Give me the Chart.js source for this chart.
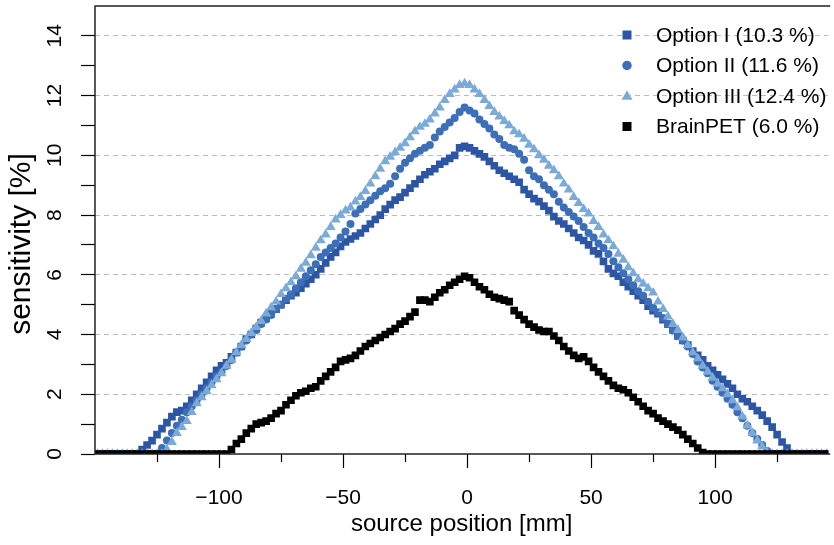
<!DOCTYPE html>
<html>
<head>
<meta charset="utf-8">
<title>Sensitivity profile</title>
<script src="https://cdn.jsdelivr.net/npm/chart.js@4.4.1/dist/chart.umd.min.js"></script>
<style>
  html, body { margin: 0; padding: 0; background: #fff; overflow: hidden; }
  #wrap { position: relative; width: 834px; height: 545px; }
</style>
</head>
<body>
<div id="wrap"><canvas id="sensChart"></canvas></div>
<script>
// source positions [mm]
const positions = [
  -149, -147, -145, -143, -141, -139, -137, -135, -133, -131,
  -129, -127, -125, -123, -121, -119, -117, -115, -113, -111,
  -109, -107, -105, -103, -101, -99, -97, -95, -93, -91,
  -89, -87, -85, -83, -81, -79, -77, -75, -73, -71,
  -69, -67, -65, -63, -61, -59, -57, -55, -53, -51,
  -49, -47, -45, -43, -41, -39, -37, -35, -33, -31,
  -29, -27, -25, -23, -21, -19, -17, -15, -13, -11,
  -9, -7, -5, -3, -1, 1, 3, 5, 7, 9,
  11, 13, 15, 17, 19, 21, 23, 25, 27, 29,
  31, 33, 35, 37, 39, 41, 43, 45, 47, 49,
  51, 53, 55, 57, 59, 61, 63, 65, 67, 69,
  71, 73, 75, 77, 79, 81, 83, 85, 87, 89,
  91, 93, 95, 97, 99, 101, 103, 105, 107, 109,
  111, 113, 115, 117, 119, 121, 123, 125, 127, 129,
  131, 133, 135, 137, 139, 141, 143, 145, 147, 149
];

// sensitivity [%]
const optionI = [
  0, 0, 0, 0, 0, 0, 0, 0, 0, 0.15,
  0.3, 0.45, 0.65, 0.85, 1.05, 1.25, 1.4, 1.45, 1.6, 1.8,
  2.0, 2.2, 2.4, 2.6, 2.8, 2.95, 3.05, 3.25, 3.4, 3.6,
  3.85, 4.0, 4.2, 4.4, 4.55, 4.7, 4.85, 5.0, 5.15, 5.3,
  5.4, 5.55, 5.7, 5.85, 6.0, 6.2, 6.4, 6.6, 6.75, 6.95,
  7.1, 7.2, 7.3, 7.4, 7.55, 7.7, 7.85, 8.0, 8.2, 8.35,
  8.5, 8.6, 8.75, 8.9, 9.05, 9.2, 9.35, 9.45, 9.55, 9.7,
  9.8, 9.9, 10.0, 10.25, 10.3, 10.25, 10.15, 10.05, 9.95, 9.8,
  9.65, 9.5, 9.4, 9.3, 9.2, 9.1, 8.85, 8.7, 8.55, 8.45,
  8.3, 8.15, 7.95, 7.8, 7.7, 7.55, 7.4, 7.25, 7.15, 7.0,
  6.8, 6.7, 6.45, 6.2, 6.05, 5.95, 5.75, 5.6, 5.45, 5.3,
  5.15, 4.95, 4.8, 4.7, 4.5, 4.35, 4.15, 3.95, 3.8, 3.65,
  3.45, 3.3, 3.15, 2.95, 2.8, 2.65, 2.5, 2.35, 2.2, 2.0,
  1.85, 1.75, 1.6, 1.45, 1.3, 1.1, 0.9, 0.65, 0.4, 0.2,
  0, 0, 0, 0, 0, 0, 0, 0, 0, 0
];

const optionII = [
  0, 0, 0, 0, 0, 0, 0, 0, 0, 0,
  0, 0, 0, 0.2, 0.45, 0.7, 0.95, 1.15, 1.4, 1.6,
  1.8, 2.0, 2.2, 2.4, 2.6, 2.75, 2.95, 3.15, 3.4, 3.6,
  3.8, 4.0, 4.15, 4.35, 4.5, 4.65, 4.85, 5.0, 5.2, 5.35,
  5.55, 5.75, 5.95, 6.15, 6.35, 6.6, 6.75, 6.9, 7.05, 7.25,
  7.45, 7.7, 8.05, 8.2, 8.35, 8.5, 8.65, 8.8, 8.9, 9.05,
  9.3, 9.55, 9.75, 9.9, 10.05, 10.15, 10.25, 10.35, 10.6, 10.8,
  10.95, 11.1, 11.25, 11.45, 11.6, 11.5, 11.4, 11.2, 11.05, 10.9,
  10.7, 10.55, 10.35, 10.25, 10.2, 10.05, 9.85, 9.5, 9.3, 9.2,
  9.0, 8.85, 8.7, 8.45, 8.25, 8.1, 7.95, 7.8, 7.6, 7.4,
  7.25, 7.05, 6.9, 6.7, 6.45, 6.25, 6.05, 5.85, 5.65, 5.45,
  5.3, 5.1, 4.9, 4.75, 4.55, 4.35, 4.15, 3.95, 3.8, 3.6,
  3.35, 3.1, 2.9, 2.7, 2.45, 2.25, 2.05, 1.85, 1.65, 1.4,
  1.2, 0.95, 0.7, 0.5, 0.3, 0.1, 0, 0, 0, 0,
  0, 0, 0, 0, 0, 0, 0, 0, 0, 0
];

const optionIII = [
  0, 0, 0, 0, 0, 0, 0, 0, 0, 0,
  0, 0, 0, 0, 0.15, 0.4, 0.7, 0.9, 1.1, 1.4,
  1.7, 1.9, 2.1, 2.3, 2.5, 2.7, 2.95, 3.15, 3.4, 3.65,
  3.85, 4.05, 4.25, 4.45, 4.7, 4.9, 5.1, 5.35, 5.55, 5.75,
  5.95, 6.2, 6.4, 6.65, 6.9, 7.15, 7.35, 7.6, 7.85, 8.0,
  8.15, 8.25, 8.45, 8.6, 8.8, 9.05, 9.3, 9.55, 9.8, 9.95,
  10.1, 10.25, 10.4, 10.6, 10.8, 10.95, 11.05, 11.2, 11.4, 11.6,
  11.85, 12.05, 12.2, 12.35, 12.4, 12.35, 12.2, 12.05, 11.85, 11.65,
  11.45, 11.3, 11.15, 11.0, 10.8, 10.7, 10.55, 10.35, 10.2, 10.0,
  9.85, 9.65, 9.5, 9.3, 9.05, 8.85, 8.6, 8.4, 8.2, 8.05,
  7.8, 7.6, 7.35, 7.15, 6.95, 6.7, 6.5, 6.25, 6.05, 5.85,
  5.7, 5.55, 5.4, 5.1, 4.85, 4.6, 4.35, 4.15, 3.9, 3.65,
  3.4, 3.2, 2.95, 2.75, 2.55, 2.35, 2.2, 2.0, 1.8, 1.55,
  1.25, 0.95, 0.7, 0.45, 0.25, 0.05, 0, 0, 0, 0,
  0, 0, 0, 0, 0, 0, 0, 0, 0, 0
];

const brainPET = [
  0, 0, 0, 0, 0, 0, 0, 0, 0, 0,
  0, 0, 0, 0, 0, 0, 0, 0, 0, 0,
  0, 0, 0, 0, 0, 0, 0, 0.15, 0.35, 0.5,
  0.7, 0.85, 1.0, 1.05, 1.1, 1.2, 1.35, 1.45, 1.65, 1.8,
  1.95, 2.05, 2.1, 2.2, 2.25, 2.45, 2.6, 2.75, 2.9, 3.1,
  3.15, 3.2, 3.3, 3.45, 3.6, 3.7, 3.8, 3.9, 4.0, 4.1,
  4.2, 4.35, 4.45, 4.6, 4.75, 5.15, 5.15, 5.1, 5.25, 5.4,
  5.5, 5.65, 5.75, 5.85, 5.95, 5.9, 5.75, 5.6, 5.5, 5.35,
  5.25, 5.2, 5.15, 5.1, 4.8, 4.65, 4.5, 4.35, 4.25, 4.15,
  4.1, 4.1, 3.95, 3.8, 3.6, 3.45, 3.3, 3.2, 3.25, 3.1,
  2.9, 2.75, 2.6, 2.45, 2.3, 2.2, 2.15, 2.05, 1.9, 1.75,
  1.6, 1.45, 1.35, 1.2, 1.1, 1.0, 0.9, 0.8, 0.65, 0.5,
  0.35, 0.2, 0.05, 0, 0, 0, 0, 0, 0, 0,
  0, 0, 0, 0, 0, 0, 0, 0, 0, 0,
  0, 0, 0, 0, 0, 0, 0, 0, 0, 0
];

const seriesLabels = ['Option I (10.3 %)', 'Option II (11.6 %)', 'Option III (12.4 %)', 'BrainPET (6.0 %)'];
const seriesColors = ['#2c56a3', '#3d6eb8', '#7baad9', '#000000'];

const xMajorTicks = [-100, -50, 0, 50, 100];
const xMinorTicks = [-125, -75, -25, 25, 75, 125];
const yTicks = [0, 1, 2, 3, 4, 5, 6, 7, 8, 9, 10, 11, 12, 13, 14];
const yLabelTicks = [0, 2, 4, 6, 8, 10, 12, 14];

const FONT = '"Liberation Sans", Arial, Helvetica, sans-serif';
Chart.defaults.font.family = FONT;
Chart.defaults.color = '#000';

function toPoints(values) {
  return values.map((v, i) => ({ x: positions[i], y: v }));
}

function fmtTick(v) {
  return v < 0 ? '\u2212' + Math.abs(v) : String(v);
}

// markers used both in the plot and in the legend
const markers = [
  { style: 'rect', radius: 5.4 },
  { style: 'circle', radius: 4.0 },
  { style: 'triangle', radius: 5.8 },
  { style: 'rect', radius: 5.4 }
];

function drawMarker(ctx, style, x, y, size, color) {
  ctx.fillStyle = color;
  ctx.beginPath();
  if (style === 'rect') {
    ctx.rect(x - size / 2, y - size / 2, size, size);
  } else if (style === 'circle') {
    ctx.arc(x, y, size / 2, 0, Math.PI * 2);
  } else {
    const h = size * 0.87;
    ctx.moveTo(x, y - h * 0.6);
    ctx.lineTo(x + size / 2, y + h * 0.4);
    ctx.lineTo(x - size / 2, y + h * 0.4);
    ctx.closePath();
  }
  ctx.fill();
}

// R-like frame, minor ticks, rotated y labels, y title and the in-plot legend
const rStylePlugin = {
  id: 'rStyle',
  afterDraw(chart) {
    const { ctx, chartArea: a, scales } = chart;
    ctx.save();

    // plot frame (right side runs off the canvas)
    ctx.strokeStyle = '#222';
    ctx.lineWidth = 1.5;
    ctx.beginPath();
    ctx.moveTo(a.right + 2, a.top);
    ctx.lineTo(a.left, a.top);
    ctx.lineTo(a.left, a.bottom);
    ctx.lineTo(a.right + 2, a.bottom);
    ctx.stroke();

    // short minor ticks on x
    ctx.strokeStyle = '#000';
    ctx.lineWidth = 1.2;
    xMinorTicks.forEach(v => {
      const px = Math.round(scales.x.getPixelForValue(v)) + 0.5;
      ctx.beginPath();
      ctx.moveTo(px, a.bottom);
      ctx.lineTo(px, a.bottom + 8);
      ctx.stroke();
    });

    // y tick labels, rotated like R's default las = 0
    ctx.fillStyle = '#000';
    ctx.font = '21px ' + FONT;
    ctx.textAlign = 'center';
    ctx.textBaseline = 'middle';
    yLabelTicks.forEach(v => {
      const py = scales.y.getPixelForValue(v);
      ctx.save();
      ctx.translate(55, py);
      ctx.rotate(-Math.PI / 2);
      ctx.fillText(String(v), 0, 0);
      ctx.restore();
    });

    // y axis title
    ctx.save();
    ctx.font = '30px ' + FONT;
    ctx.translate(22, 244);
    ctx.rotate(-Math.PI / 2);
    ctx.fillText('sensitivity [%]', 0, 0);
    ctx.restore();

    // legend
    const legendX = 627, textX = 656;
    const rowY = [35, 65.5, 96, 126.5];
    const legendSize = [9, 9.5, 11, 9];
    ctx.font = '21px ' + FONT;
    ctx.textAlign = 'left';
    seriesLabels.forEach((label, i) => {
      drawMarker(ctx, markers[i].style, legendX, rowY[i], legendSize[i], seriesColors[i]);
      ctx.fillStyle = '#000';
      ctx.fillText(label, textX, rowY[i] + 1);
    });

    ctx.restore();
  }
};

const seriesData = [optionI, optionII, optionIII, brainPET];

new Chart(document.getElementById('sensChart'), {
  type: 'scatter',
  data: {
    datasets: seriesData.map((values, i) => ({
      label: seriesLabels[i],
      data: toPoints(values),
      showLine: false,
      pointStyle: markers[i].style,
      pointRadius: markers[i].radius,
      pointHoverRadius: markers[i].radius,
      pointBackgroundColor: seriesColors[i],
      pointBorderWidth: 0,
      borderColor: seriesColors[i],
      clip: 0,
      order: 3 - i
    }))
  },
  options: {
    responsive: true,
    maintainAspectRatio: false,
    animation: false,
    layout: { padding: { top: 6, right: 0, bottom: 0, left: 0 } },
    plugins: {
      legend: { display: false },
      tooltip: { enabled: false }
    },
    scales: {
      x: {
        type: 'linear',
        min: -150,
        max: 145.6,
        afterBuildTicks: s => { s.ticks = xMajorTicks.map(v => ({ value: v })); },
        afterFit: s => { s.height = 91; },
        border: { display: false },
        grid: {
          drawOnChartArea: false,
          drawTicks: true,
          tickLength: 14,
          tickWidth: 1.2,
          tickColor: '#000'
        },
        ticks: {
          autoSkip: false,
          maxRotation: 0,
          padding: 18,
          color: '#000',
          font: { size: 21 },
          callback: v => fmtTick(v)
        },
        title: {
          display: true,
          text: 'source position [mm]',
          color: '#000',
          font: { size: 24 },
          padding: { top: 0, bottom: 6 }
        }
      },
      y: {
        min: 0,
        max: 15,
        afterBuildTicks: s => { s.ticks = yTicks.map(v => ({ value: v })); },
        afterFit: s => { s.width = 95; },
        border: { display: false, dash: [5, 4] },
        grid: {
          color: c => (c.tick && c.tick.value > 0 && c.tick.value % 2 === 0) ? '#bcbcbc' : 'rgba(0,0,0,0)',
          lineWidth: 1,
          drawTicks: true,
          tickLength: 14,
          tickWidth: 1.2,
          tickColor: '#000',
          tickBorderDash: []
        },
        ticks: { display: false },
        title: { display: false }
      }
    }
  },
  plugins: [rStylePlugin]
});
</script>
</body>
</html>
